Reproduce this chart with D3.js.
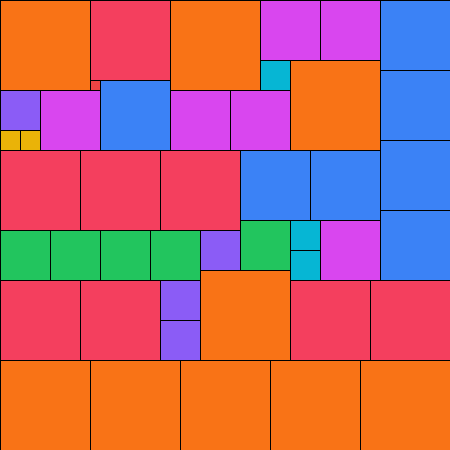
<!DOCTYPE html>
<html>
<head>
<meta charset="utf-8">
<script src="https://cdn.jsdelivr.net/npm/d3@7"></script>
<style>
  html, body { margin: 0; padding: 0; background: #fff; }
  svg { display: block; }
</style>
</head>
<body>
<svg id="chart" width="450" height="450"></svg>
<script>
// grid units (1 unit = 10px), each cell: category, column, row, width, height
const cellCategory = [
  "orange", "pink", "red", "blue", "orange", "magenta", "magenta", "cyan", "orange",
  "blue", "blue", "blue", "blue",
  "purple", "yellow", "yellow", "magenta", "magenta", "magenta",
  "pink", "pink", "pink", "blue", "blue",
  "green", "green", "green", "green", "purple", "green", "cyan", "cyan", "magenta",
  "pink", "pink", "purple", "purple", "orange", "pink", "pink",
  "orange", "orange", "orange", "orange", "orange"
];
const cellCol = [0, 9, 9, 10, 17, 26, 32, 26, 29, 38, 38, 38, 38, 0, 0, 2, 4, 17, 23,
  0, 8, 16, 24, 31, 0, 5, 10, 15, 20, 24, 29, 29, 32, 0, 8, 16, 16, 20, 29, 37,
  0, 9, 18, 27, 36];
const cellRow = [0, 0, 8, 8, 0, 0, 0, 6, 6, 0, 7, 14, 21, 9, 13, 13, 9, 9, 9,
  15, 15, 15, 15, 15, 23, 23, 23, 23, 23, 22, 22, 25, 22, 28, 28, 28, 32, 27, 28, 28,
  36, 36, 36, 36, 36];
const cellW = [9, 8, 1, 7, 9, 6, 6, 3, 9, 7, 7, 7, 7, 4, 2, 2, 6, 6, 6,
  8, 8, 8, 7, 7, 5, 5, 5, 5, 4, 5, 3, 3, 6, 8, 8, 4, 4, 9, 8, 8,
  9, 9, 9, 9, 9];
const cellH = [9, 8, 1, 7, 9, 6, 6, 3, 9, 7, 7, 7, 7, 4, 2, 2, 6, 6, 6,
  8, 8, 8, 7, 7, 5, 5, 5, 5, 4, 5, 3, 3, 6, 8, 8, 4, 4, 9, 8, 8,
  9, 9, 9, 9, 9];

const categories = ["orange", "pink", "red", "blue", "magenta", "cyan", "purple", "yellow", "green"];
const palette = ["#f97316", "#f43f5e", "#ef4444", "#3b82f6", "#d946ef", "#06b6d4", "#8b5cf6", "#eab308", "#22c55e"];

const svg = d3.select("#chart");
const width = +svg.attr("width");
const height = +svg.attr("height");

const x = d3.scaleLinear().domain([0, 45]).range([0, width]);
const y = d3.scaleLinear().domain([0, 45]).range([0, height]);
const color = d3.scaleOrdinal().domain(categories).range(palette);

const cells = cellCategory.map((c, i) => ({
  cat: c, col: cellCol[i], row: cellRow[i], w: cellW[i], h: cellH[i]
}));

// 셀 그리기
svg.append("g")
  .attr("transform", "translate(0.5,0.5)")
  .selectAll("rect")
  .data(cells)
  .enter()
  .append("rect")
  .attr("x", d => x(d.col))
  .attr("y", d => y(d.row))
  .attr("width", d => x(d.col + d.w) - x(d.col))
  .attr("height", d => y(d.row + d.h) - y(d.row))
  .attr("fill", d => color(d.cat))
  .attr("stroke", "#000")
  .attr("stroke-width", 1);
</script>
</body>
</html>
